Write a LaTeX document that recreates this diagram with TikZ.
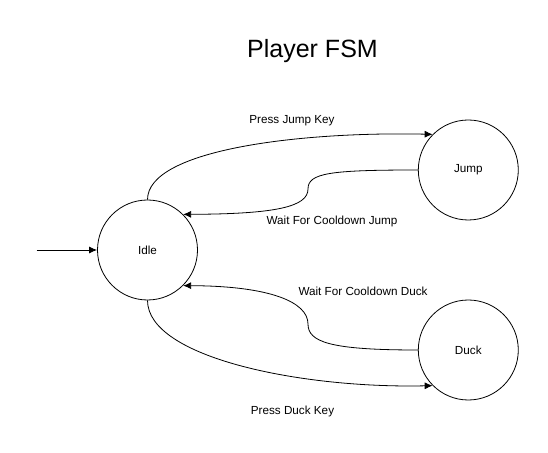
\documentclass[tikz,border=0pt]{standalone}
\usepackage{fontspec}
\setmainfont{Liberation Sans}
\usepackage{tikz}
\usetikzlibrary{positioning,calc}
\usetikzlibrary{arrows.meta}

\begin{document}
\begin{tikzpicture}[x=1pt, y=1pt, line width=0.8pt, font=\fontsize{11.7}{14}\selectfont,
	arr/.style={-{Latex[length=8pt, width=7pt]}}]
	\useasboundingbox (0,0) rectangle (548,452);
	\node (title) at (312.5,401) {\fontsize{25}{30}\selectfont Player FSM};
	\begin{scope}[every node/.style={draw, circle, inner sep=0pt}, minimum size=100pt]
	    \node (idle) at (147.5,202) {Idle};
	    \node[right = 220pt of idle, yshift=80pt] (jump) {Jump};
	    \node[right = 220pt of idle, yshift=-100pt] (duck) {Duck};
	\end{scope}
	\coordinate (start) at (36.7,202);

	\node (pj) at (292,331) {Press Jump Key};
	\node (wj) at (332,231) {Wait For Cooldown Jump};
	\node (wd) at (363,161) {Wait For Cooldown Duck};
	\node (pd) at (292.5,41) {Press Duck Key};

	\draw [arr] (start) -- (idle.west);
	\draw [arr] (idle.north) .. controls +(0,50) and +(-132,3) .. (jump.135);
	\draw [arr] (jump.west) .. controls +(-88,0) and (308,279) .. (308,263)
	    .. controls (308,245) and (275,238) .. (idle.45);
	\draw [arr] (duck.west) .. controls +(-88,0) and (308,110) .. (308,128)
	    .. controls (308,150) and (270,166) .. (idle.-45);
	\draw [arr] (idle.south) .. controls +(0,-57) and +(-132,-3) .. (duck.-135);

\end{tikzpicture}
\end{document}
